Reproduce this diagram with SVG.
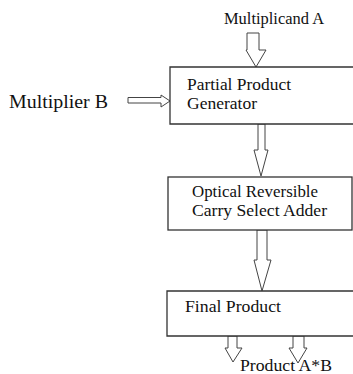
<svg xmlns="http://www.w3.org/2000/svg" width="353" height="374" viewBox="0 0 353 374">
  <style>
    .box { fill: #ffffff; stroke: #333333; stroke-width: 1.3; }
    .arrow { fill: #ffffff; stroke: #444444; stroke-width: 1; stroke-linejoin: miter; }
  </style>
  <rect width="353" height="374" fill="#ffffff"/>

  <!-- connectors: hollow block arrows -->
  <g id="connectors">
    <polygon class="arrow" points="247,33 259,33 259,50 266,50 256,67 246,50 247,50"/>
    <polygon class="arrow" points="128,97.5 161,97.5 161,95 170,101 161,107 161,103 128,103"/>
    <polygon class="arrow" points="258,124 265,124 265,150 268,150 261,176 254,150 258,150"/>
    <polygon class="arrow" points="257,230 267,230 267,260 271,260 262,291 254,260 257,260"/>
    <polygon class="arrow" points="228,336 237,336 237,348 242,348 233,362 225,348 228,348"/>
    <polygon class="arrow" points="293,336 304,336 304,348 307,348 298,363 289,348 293,348"/>
  </g>

  <g font-family="Liberation Serif, DejaVu Serif, serif" fill="#111111">
    <g id="multiplicand">
      <text x="224" y="24" font-size="16" textLength="100" lengthAdjust="spacingAndGlyphs">Multiplicand A</text>
    </g>

    <g id="multiplier">
      <text x="9" y="108" font-size="18" textLength="99" lengthAdjust="spacingAndGlyphs">Multiplier B</text>
    </g>

    <g id="partial-product-generator">
      <path class="box" d="M 360,67 H 170 V 124 H 360"/>
      <text x="187" y="90" font-size="17" textLength="104" lengthAdjust="spacingAndGlyphs">Partial Product</text>
      <text x="187" y="109" font-size="17" textLength="70" lengthAdjust="spacingAndGlyphs">Generator</text>
    </g>

    <g id="carry-select-adder">
      <rect class="box" x="168" y="177" width="184" height="53"/>
      <text x="192" y="197" font-size="17" textLength="126" lengthAdjust="spacingAndGlyphs">Optical Reversible</text>
      <text x="192" y="216" font-size="17" textLength="135" lengthAdjust="spacingAndGlyphs">Carry Select Adder</text>
    </g>

    <g id="final-product">
      <path class="box" d="M 360,291 H 167 V 336 H 360"/>
      <text x="185" y="312" font-size="17" textLength="96" lengthAdjust="spacingAndGlyphs">Final Product</text>
    </g>

    <g id="product">
      <text x="240" y="370.5" font-size="16" textLength="92" lengthAdjust="spacingAndGlyphs">Product A*B</text>
    </g>
  </g>
</svg>
